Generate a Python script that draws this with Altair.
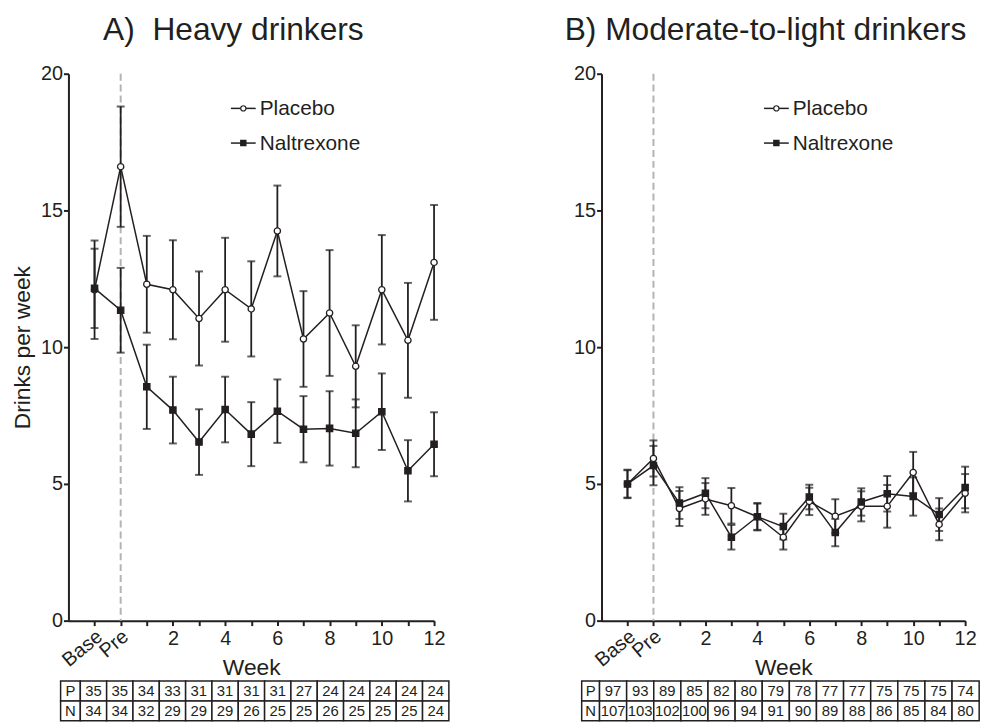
import altair as alt
import pandas as pd

# ---------------- data ----------------
x_values = [-1, 0, 1, 2, 3, 4, 5, 6, 7, 8, 9, 10, 11, 12]
word_ticks = ["Base", "Pre"]
word_tick_x = [-1, 0]
series_names = ["Placebo", "Naltrexone"]
table_row_labels = ["P", "N"]

heavy_placebo_mean = [12.1, 16.6, 12.3, 12.1, 11.05, 12.1, 11.4, 14.25, 10.3, 11.25, 9.3, 12.1, 10.25, 13.1]
heavy_placebo_err = [1.8, 2.2, 1.77, 1.81, 1.72, 1.9, 1.74, 1.66, 1.75, 2.3, 1.5, 2.0, 2.1, 2.1]
heavy_nal_mean = [12.15, 11.35, 8.55, 7.7, 6.53, 7.72, 6.82, 7.66, 7.0, 7.03, 6.85, 7.64, 5.48, 6.45]
heavy_nal_err = [1.45, 1.55, 1.54, 1.22, 1.2, 1.2, 1.17, 1.16, 1.21, 1.36, 1.24, 1.4, 1.12, 1.17]

mod_placebo_mean = [5.0, 5.93, 4.1, 4.45, 4.2, 3.8, 3.05, 4.36, 3.82, 4.18, 4.18, 5.42, 3.52, 4.66]
mod_placebo_err = [0.5, 0.66, 0.64, 0.58, 0.65, 0.48, 0.45, 0.5, 0.62, 0.55, 0.78, 0.75, 0.58, 0.7]
mod_nal_mean = [5.0, 5.67, 4.3, 4.66, 3.05, 3.8, 3.44, 4.52, 3.22, 4.34, 4.64, 4.54, 3.88, 4.87]
mod_nal_err = [0.52, 0.72, 0.58, 0.55, 0.45, 0.5, 0.47, 0.45, 0.5, 0.5, 0.65, 0.7, 0.6, 0.76]

heavy_n_placebo = [35, 35, 34, 33, 31, 31, 31, 31, 27, 24, 24, 24, 24, 24]
heavy_n_nal = [34, 34, 32, 29, 29, 29, 26, 25, 25, 26, 25, 25, 25, 24]
mod_n_placebo = [97, 93, 89, 85, 82, 80, 79, 78, 77, 77, 75, 75, 75, 74]
mod_n_nal = [107, 103, 102, 100, 96, 94, 91, 90, 89, 88, 86, 85, 84, 80]

# ---------------- style ----------------
FONT = "Liberation Sans"
INK = "#231f20"
PLOT_H = 552
ROW_TOP = -2.21
ROW_H = 0.725


def build_panel(title, pm, pe, nm, ne, n_p, n_n, width, ytitle, lab_left, data_left, col_w):
    df = pd.DataFrame({
        "x": x_values * 2,
        "mean": pm + nm,
        "lo": [m - e for m, e in zip(pm, pe)] + [m - e for m, e in zip(nm, ne)],
        "hi": [m + e for m, e in zip(pm, pe)] + [m + e for m, e in zip(nm, ne)],
        "series": [series_names[0]] * len(pm) + [series_names[1]] * len(nm),
    })

    xs = alt.Scale(domain=[-2, 12], nice=False, zero=False)
    ys = alt.Scale(domain=[0, 20], nice=False, zero=False)
    xaxis = alt.Axis(
        values=x_values, title="Week",
        labelExpr="datum.value >= 2 && datum.value % 2 == 0 ? datum.label : ''",
        labelFlush=False, labelOverlap=False, labelPadding=3, titlePadding=8,
    )
    yaxis = alt.Axis(values=[0, 5, 10, 15, 20], title=ytitle, labelFlush=False,
                     labelOverlap=False, labelPadding=1, titlePadding=6)

    def X(f):
        return alt.X(f, type="quantitative", scale=xs, axis=xaxis)

    def Y(f):
        return alt.Y(f, type="quantitative", scale=ys, axis=yaxis)

    dashed = alt.Chart(pd.DataFrame({"x": [0]})).mark_rule(
        color="#b3b3b3", strokeWidth=2, strokeDash=[7, 4]
    ).encode(x=X("x"), y=alt.Y(datum=20, scale=ys, axis=yaxis), y2=alt.Y2(datum=0))

    base = alt.Chart(df)
    err = base.mark_rule(color=INK, strokeWidth=1.8).encode(x=X("x"), y=Y("lo"), y2="hi")
    cap_lo = base.mark_tick(orient="horizontal", color=INK, size=8, thickness=2).encode(x=X("x"), y=Y("lo"))
    cap_hi = base.mark_tick(orient="horizontal", color=INK, size=8, thickness=2).encode(x=X("x"), y=Y("hi"))
    line = base.mark_line(color=INK, strokeWidth=1.5).encode(x=X("x"), y=Y("mean"), detail="series:N")
    pts = base.mark_point(filled=True, stroke=INK, strokeWidth=1.3, size=40, opacity=1).encode(
        x=X("x"), y=Y("mean"),
        shape=alt.Shape("series:N", scale=alt.Scale(domain=series_names, range=["circle", "square"]), legend=None),
        fill=alt.Fill("series:N", scale=alt.Scale(domain=series_names, range=["white", INK]), legend=None),
    )

    # manual legend (pixel positions inside plot area)
    legend_layers = []
    for i, name in enumerate(series_names):
        ly = 35 + i * 35
        ldf = pd.DataFrame({"s": [name]})
        lc = alt.Chart(ldf)
        legend_layers.append(lc.mark_rule(color=INK, strokeWidth=1.5).encode(
            x=alt.value(164), x2=alt.value(189), y=alt.value(ly)))
        legend_layers.append(lc.mark_point(
            shape=["circle", "square"][i], filled=True, fill=["white", INK][i], stroke=INK,
            strokeWidth=1.2, size=28, opacity=1).encode(x=alt.value(176.5), y=alt.value(ly)))
        legend_layers.append(lc.mark_text(
            align="left", baseline="middle", font=FONT, fontSize=21, color=INK).encode(
            x=alt.value(193), y=alt.value(ly + 1), text="s:N"))

    # N table below the axis
    cells = []
    for r, (lab, vals) in enumerate(zip(table_row_labels, [n_p, n_n])):
        y_top = ROW_TOP - r * ROW_H
        y_bot = y_top - ROW_H
        cells.append(dict(x0=lab_left, x1=data_left, y0=y_bot, y1=y_top,
                          tx=(lab_left + data_left) / 2, ty=(y_top + y_bot) / 2, t=lab))
        for i, v in enumerate(vals):
            x0 = data_left + i * col_w
            cells.append(dict(x0=x0, x1=x0 + col_w, y0=y_bot, y1=y_top,
                              tx=x0 + col_w / 2, ty=(y_top + y_bot) / 2, t=str(v)))
    cdf = pd.DataFrame(cells)
    tc = alt.Chart(cdf)
    trect = tc.mark_rect(fill="white", stroke=INK, strokeWidth=1.5).encode(
        x=X("x0"), x2="x1", y=Y("y0"), y2="y1")
    ttext = tc.mark_text(font=FONT, fontSize=15, color=INK, baseline="middle", align="center").encode(
        x=X("tx"), y=Y("ty"), text="t:N")

    wdf = pd.DataFrame({"x": word_tick_x, "t": word_ticks})
    words = alt.Chart(wdf).mark_text(
        angle=320, align="right", baseline="middle", font=FONT, fontSize=20, color=INK, dx=7
    ).encode(x=X("x"), y=alt.value(PLOT_H + 18), text="t:N")

    chart = alt.layer(
        dashed, err, cap_lo, cap_hi, line, pts, *legend_layers, trect, ttext, words
    ).properties(
        width=width, height=PLOT_H,
        title=alt.Title(title, fontSize=32, font=FONT, fontWeight="normal", color=INK,
                        anchor="middle", frame="group", dx=-18, offset=17),
    )
    return chart


panel_a = build_panel("A)\u00a0 Heavy drinkers", heavy_placebo_mean, heavy_placebo_err,
                      heavy_nal_mean, heavy_nal_err, heavy_n_placebo, heavy_n_nal,
                      369, "Drinks per week", -2.30, -1.545, 1.008)
panel_b = build_panel("B) Moderate-to-light drinkers", mod_placebo_mean, mod_placebo_err,
                      mod_nal_mean, mod_nal_err, mod_n_placebo, mod_n_nal,
                      367, None, -2.763, -2.076, 1.044)

chart = alt.hconcat(panel_a, panel_b, spacing=169, bounds="flush").properties(
    padding={"left": 3, "top": 3, "right": 0, "bottom": 0}
).configure_view(stroke=None).configure_axis(
    grid=False, domainColor=INK, domainWidth=2, tickColor=INK, tickWidth=2, tickSize=5,
    labelFont=FONT, labelFontSize=20, labelColor=INK,
    titleFont=FONT, titleFontSize=23, titleFontWeight="normal", titleColor=INK,
)

chart.save("out.html", embed_options={"renderer": "svg", "actions": False})
